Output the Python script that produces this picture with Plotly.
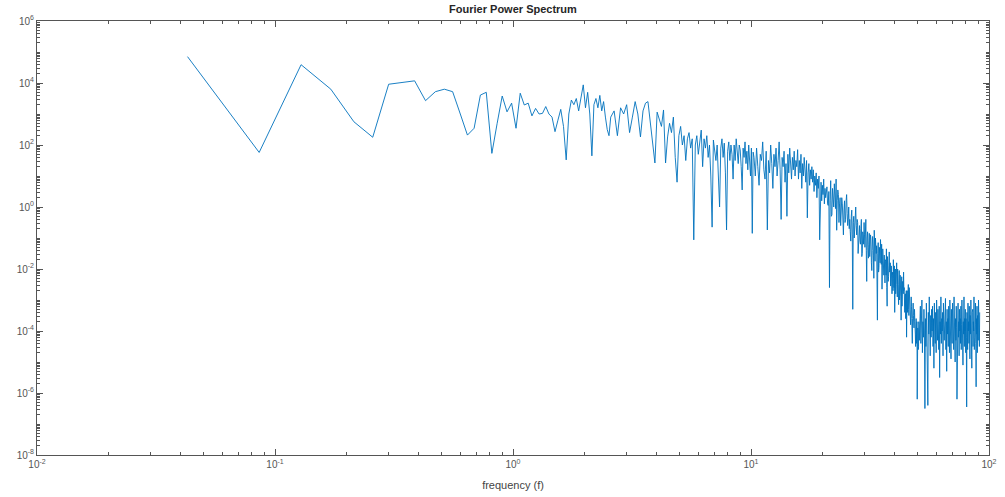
import numpy as np
import plotly.graph_objects as go

# Frequency resolution of the spectrum (Hz per FFT bin)
FREQ_STEP = 0.0429

# log10 of spectral power, grouped by bin spacing.
# bins 1..60, every bin
lp_low = [
    4.85, 1.76, 4.59, 3.80, 2.75, 2.25, 3.96, 4.02, 4.07, 3.43,
    3.72, 3.80, 3.72, 3.00, 2.32, 2.54, 3.61, 3.70, 1.73, 2.70,
    3.58, 3.07, 3.35, 2.54, 3.67, 3.29, 3.35, 2.94, 3.18, 3.00,
    3.02, 3.24, 3.00, 2.90, 2.43, 2.80, 3.15, 2.60, 1.52, 3.00,
    3.45, 3.30, 3.50, 3.10, 3.60, 3.94, 3.20, 3.70, 3.00, 1.65,
    3.30, 3.50, 3.20, 3.60, 3.10, 3.40, 2.90, 2.50, 2.30, 2.90,
]
# bins 62..238, every 2nd bin
lp_mid = [
    3.10, 2.30, 3.20, 3.00, 3.30, 2.40, 2.90, 3.40, 3.00, 2.26,
    3.10, 3.35, 3.40, 2.70, 1.95, 1.42, 3.06, 2.80, 2.60, 3.13,
    1.42, 2.26, 2.70, 2.40, 2.90, 1.60, 0.80, 2.30, 2.60, 2.00,
    2.30, 1.50, 2.20, 2.40, 1.90, 2.20, -1.06, 2.00, 2.30, 1.70,
    2.10, 2.48, 1.30, 2.20, 1.90, 2.30, 1.60, 2.00, 1.00, -0.65,
    2.16, 1.80, 1.50, 2.00, 1.20, 0.00, 1.90, 2.20, 1.60, 2.06,
    1.10, -0.74, 1.80, 2.10, 1.50, 2.00, 1.70, 0.90, 2.00, 1.50,
    2.20, 1.80, 1.40, 2.00, 1.84, 1.30, 0.55, 1.90, 1.60, 2.10,
    1.40, 1.80, 1.20, 2.00, 1.60, 1.00, 1.90, -0.85, 1.77,
]
# bins 240..480, every 3rd bin
lp_high = [
    1.60, 1.00, 1.90, 1.30, 0.70, 1.70, 1.50, 2.10, 1.20, 0.90,
    1.80, -0.74, 1.50, 1.10, 2.00, 1.40, 0.60, 1.70, 1.30, 1.90, 1.00,
    1.50, 2.10, 1.20, -0.40, 1.60, 1.30, 1.80, 0.80, 1.40, -0.30,
    1.70, 1.10, 1.90, 1.40, 0.90, 1.60, 1.20, 1.80, 1.00, 1.50,
    1.30, 1.85, 0.90, 1.50, 1.10, 1.70, 0.60, 1.40, 1.00, 1.60,
    1.20, 0.80, 1.50, -0.35, 1.10, 1.40, 0.70, 1.20, 0.90, 1.30,
    0.80, 1.20, 0.50, 1.00, 0.70, 1.10, 0.30, 0.90, 0.60, 1.00,
    -1.06, 0.50, 0.80, 0.20, 0.70, 0.40, 0.90, 0.10, 0.60, 0.30,
]
# bins 486..1197, every 3rd bin (roll-off and knee)
lp_rolloff = [
    0.65, 0.10, 0.05, 0.50, -2.60, 0.20, 0.85, -0.30, -0.25, 0.60,
    0.35, 0.00, 0.75, 0.30, -0.05, 0.90, -0.75, 0.20, 0.55, 0.40,
    -0.50, 0.10, 0.30, -0.60, -0.20, 0.30, 0.10, -0.30, -0.90, -0.10,
    0.20, -0.50, -0.40, 0.20, 0.40, -0.20, -0.60, -0.40, 0.00, -0.70,
    -0.40, -0.80, -1.10, -0.30, -0.10, -0.90, -3.30, -0.50, -0.30, -1.00,
    -0.70, -0.20, 0.00, -0.60, -0.90, -0.40, -0.50, -1.50, -1.20, -0.70,
    -0.60, -1.10, -1.20, -0.70, -0.40, -1.60, -1.50, -0.80, -0.90, -1.20,
    -0.50, -0.90, -1.30, -0.60, -0.40, -1.40, -2.40, -1.00, -0.80, -1.30,
    -1.65, -1.20, -0.85, -1.60, -1.35, -0.90, -1.05, -1.80, -2.05, -1.40,
    -0.95, -1.10, -1.55, -2.30, -0.75, -1.30, -1.75, -1.00, -1.15, -1.50,
    -1.25, -1.90, -3.65, -1.50, -1.15, -2.10, -1.95, -1.30, -1.45, -1.80,
    -1.05, -1.60, -1.85, -1.20, -2.65, -2.00, -1.35, -1.70, -1.75, -2.20,
    -1.55, -2.00, -2.45, -1.70, -1.75, -2.20, -1.35, -2.60, -3.20, -1.60,
    -1.85, -2.40, -2.25, -1.90, -1.45, -2.10, -2.05, -1.80, -2.55, -2.30,
    -1.90, -2.40, -2.80, -2.20, -2.10, -2.70, -1.70, -2.30, -2.60, -1.90,
    -3.40, -2.60, -2.00, -2.80, -2.50, -2.10, -1.80, -2.50, -2.90, -2.00,
    -2.35, -2.80, -3.15, -2.50, -2.05, -3.00, -2.85, -2.20, -2.45, -2.90,
    -3.65, -2.60, -2.25, -3.20, -2.95, -2.40, -2.50, -2.80, -2.10, -2.70,
    -2.60, -3.10, -3.40, -2.90, -2.80, -3.60, -3.30, -2.70, -4.20, -3.20,
    -2.70, -3.40, -3.10, -2.80, -2.50, -3.30, -3.50, -2.60, -3.00, -3.20,
    -3.00, -3.50, -3.80, -3.30, -2.90, -3.20, -3.60, -3.90, -4.40, -3.60,
    -3.20, -3.10, -3.50, -3.80, -3.90, -3.40, -3.30, -3.70,
    -3.80, -4.10, -4.50, -3.90, -3.60, -4.40, -4.20, -3.70, -6.20, -4.20,
    -3.90, -4.00, -4.60, -4.50, -3.70, -3.80, -4.30, -4.10, -4.00, -3.90,
]
# bins 1200..2130, every 6th bin (noise floor)
lp_floor = [
    -3.20, -4.40, -3.50, -3.00, -4.70, -3.70, -4.20, -3.30, -4.00, -6.50, -3.60, -4.50,
    -3.10, -3.90, -4.60, -6.40, -3.40, -4.10, -2.90, -3.80, -4.80, -3.50, -4.20, -3.30,
    -4.00, -3.20, -4.50, -3.60, -5.20, -3.10, -3.90, -4.40, -3.40, -4.70, -3.00, -3.80,
    -4.30, -3.30, -3.90, -4.60, -3.20, -5.50, -3.70, -4.10, -2.90, -4.40, -3.60, -4.00,
    -3.40, -4.80, -3.10, -3.80, -4.30, -3.50, -4.00, -2.95, -4.60, -3.70, -5.30, -3.30,
    -4.10, -3.60, -4.50, -3.20, -3.90, -4.70, -3.00, -4.20, -3.50, -4.90, -3.30, -3.80,
    -4.40, -3.10, -4.00, -3.70, -4.60, -2.90, -4.10, -3.40, -5.00, -3.60, -4.30, -3.20,
    -3.90, -6.20, -3.50, -4.50, -3.10, -4.20, -3.70, -4.80, -3.30, -4.00, -3.60, -4.40,
    -3.20, -4.60, -3.80, -3.00, -4.30, -3.50, -5.10, -3.70, -4.10, -2.90, -4.50, -3.60,
    -4.00, -3.30, -4.70, -3.60, -4.20, -6.45, -3.40, -3.90, -4.60, -3.10, -4.00, -3.70,
    -4.40, -3.20, -3.80, -4.90, -3.50, -4.10, -3.00, -4.30, -3.60, -5.20, -3.40, -3.90,
    -3.30, -4.50, -3.70, -4.00, -2.90, -4.60, -3.50, -4.20, -3.80, -3.10, -4.40, -5.80,
    -3.60, -4.10, -3.20, -4.70, -3.50, -3.90, -4.30, -3.00, -4.00, -3.60, -4.50, -3.40,
]

# (first bin, bin spacing, values)
segments = [
    (1, 1, lp_low),
    (62, 2, lp_mid),
    (240, 3, lp_high),
    (486, 3, lp_rolloff),
    (1200, 6, lp_floor),
]

freq_parts, power_parts = [], []
for first_bin, spacing, vals in segments:
    bins = first_bin + spacing * np.arange(len(vals))
    freq_parts.append(bins * FREQ_STEP)
    power_parts.append(10.0 ** np.asarray(vals))
freq = np.concatenate(freq_parts)
power = np.concatenate(power_parts)

x_major = [1e-2, 1e-1, 1e0, 1e1, 1e2]
x_labels = ["10<sup>-2</sup>", "10<sup>-1</sup>", "10<sup>0</sup>", "10<sup>1</sup>", "10<sup>2</sup>"]
y_major = [1e-8, 1e-6, 1e-4, 1e-2, 1e0, 1e2, 1e4, 1e6]
y_labels = ["10<sup>-8</sup>", "10<sup>-6</sup>", "10<sup>-4</sup>", "10<sup>-2</sup>",
            "10<sup>0</sup>", "10<sup>2</sup>", "10<sup>4</sup>", "10<sup>6</sup>"]


def minor_ticks(lo, hi, majors):
    vals = []
    for e in range(lo, hi):
        for m in range(1, 10):
            v = m * 10.0 ** e
            if not any(abs(v - t) / t < 1e-9 for t in majors):
                vals.append(v)
    return vals


AX_COLOR = "#555555"
LABEL_FONT = dict(family="Liberation Sans, Arial, sans-serif", size=10, color="#555555")

fig = go.Figure()
fig.add_trace(go.Scatter(
    x=freq, y=power, mode="lines",
    line=dict(color="#0072BD", width=0.9),
    showlegend=False, hoverinfo="skip",
))

axis_common = dict(
    type="log",
    showgrid=False, zeroline=False, automargin=False,
    showline=True, linecolor=AX_COLOR, linewidth=1, mirror="ticks",
    ticks="inside", tickcolor=AX_COLOR, tickwidth=1,
    tickmode="array", tickfont=LABEL_FONT,
)

fig.update_layout(
    width=1005, height=497,
    margin=dict(l=37, r=16, t=21, b=42),
    paper_bgcolor="white", plot_bgcolor="white",
    title=dict(
        text="<b>Fourier Power Spectrum</b>",
        x=0.5, xref="paper", xanchor="center",
        y=1 - 9 / 497, yref="container", yanchor="middle",
        font=dict(family="Liberation Sans, Arial, sans-serif", size=11, color="#262626"),
    ),
    xaxis=dict(
        **axis_common,
        range=[-2, 2],
        tickvals=x_major, ticktext=x_labels, ticklen=6,
        minor=dict(ticks="inside", ticklen=3, tickcolor=AX_COLOR,
                   tickmode="array", tickvals=minor_ticks(-2, 2, x_major)),
        title=dict(text="frequency (f)", standoff=12,
                   font=dict(family="Liberation Sans, Arial, sans-serif", size=11, color="#444444")),
    ),
    yaxis=dict(
        **axis_common,
        range=[-8, 6],
        tickvals=y_major, ticktext=y_labels, ticklen=6,
        minor=dict(ticks="inside", ticklen=3, tickcolor=AX_COLOR,
                   tickmode="array", tickvals=minor_ticks(-8, 6, y_major)),
    ),
)

fig.write_html("out.html")
